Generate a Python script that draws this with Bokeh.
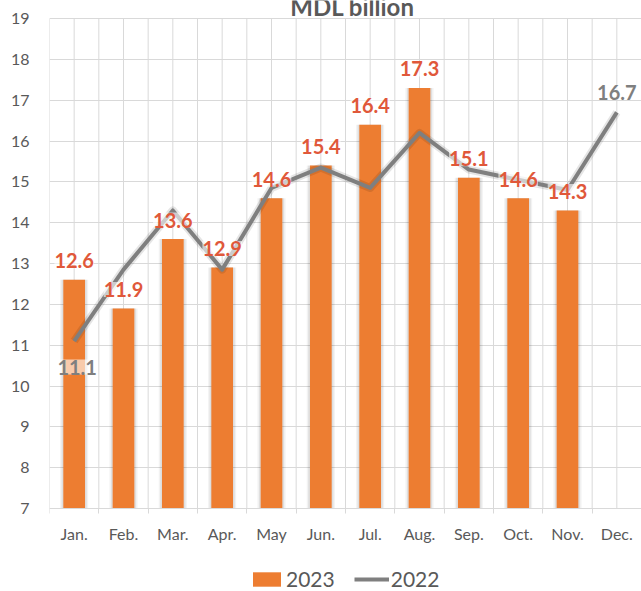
from bokeh.plotting import figure
from bokeh.models import (ColumnDataSource, FixedTicker, Label, LabelSet, Legend,
                          LegendItem, Range1d)
from bokeh.core.properties import value
from bokeh.embed import file_html
from bokeh.resources import INLINE

# ---- data ----
months = ["Jan.", "Feb.", "Mar.", "Apr.", "May", "Jun.", "Jul.", "Aug.",
          "Sep.", "Oct.", "Nov.", "Dec."]
values_2023 = [12.6, 11.9, 13.6, 12.9, 14.6, 15.4, 16.4, 17.3, 15.1, 14.6, 14.3, None]
values_2022 = [11.1, 12.85, 14.3, 12.85, 14.85, 15.35, 14.85, 16.2, 15.3, 15.05, 14.8, 16.7]
y_ticks = [7, 8, 9, 10, 11, 12, 13, 14, 15, 16, 17, 18, 19]
title_text = "MDL billion"
series_names = ["2023", "2022"]

# ---- styles ----
ORANGE = "#ed7d31"
LABEL_RED = "#e0583a"
GRAY_LINE = "#7f7f7f"
TEXT_GRAY = "#595959"
GRID = "#d9d9d9"
FONT = "Lato"

W, H = 641, 591
TOP, LEFT = 18, 49          # pixel row of the value-axis maximum, frame left
AXIS_Y = 508                # pixel row of the value axis minimum
px_per_unit = (AXIS_Y - TOP) / (y_ticks[-1] - y_ticks[0])
y_start = y_ticks[0] - (H - AXIS_Y) / px_per_unit
y_end = y_ticks[-1] + TOP / px_per_unit

xs = list(range(1, len(months) + 1))
bar_x = [x for x, v in zip(xs, values_2023) if v is not None]
bar_top = [v for v in values_2023 if v is not None]

bar_src = ColumnDataSource(dict(x=bar_x, top=bar_top,
                                text=[f"{v:.1f}" for v in bar_top]))
line_src = ColumnDataSource(dict(x=xs, y=values_2022))
first_src = ColumnDataSource(dict(x=[xs[0]], y=[values_2022[0]],
                                  text=[f"{values_2022[0]:.1f}"]))
last_src = ColumnDataSource(dict(x=[xs[-1]], y=[values_2022[-1]],
                                 text=[f"{values_2022[-1]:.1f}"]))

p = figure(width=W, height=H,
           x_range=Range1d(0.5, len(months) + 0.5),
           y_range=Range1d(y_start, y_end),
           output_backend="svg", toolbar_location=None,
           min_border_left=LEFT, min_border_right=0,
           min_border_top=0, min_border_bottom=0)
p.outline_line_color = None
p.background_fill_color = "white"
p.border_fill_color = "white"

# horizontal grid from the y ticks
p.ygrid.ticker = FixedTicker(ticks=y_ticks)
p.ygrid.grid_line_color = GRID
p.xgrid.visible = False
# vertical grid at category boundaries and centres (only inside the value span)
grid_x = [0.5 + 0.5 * i for i in range(2 * len(months) + 1)]
p.segment(x0=grid_x, y0=[y_ticks[0]] * len(grid_x), x1=grid_x,
          y1=[y_ticks[-1]] * len(grid_x), line_color=GRID, line_width=1)

# x axis fixed at the value-axis minimum
p.xaxis.fixed_location = y_ticks[0]
p.xaxis.ticker = FixedTicker(ticks=xs, minor_ticks=[x - 0.5 for x in xs] + [xs[-1] + 0.5])
p.xaxis.major_label_overrides = {x: m for x, m in zip(xs, months)}
p.xaxis.axis_line_color = GRID
p.xaxis.major_tick_line_color = None
p.xaxis.major_tick_out = 0
p.xaxis.major_tick_in = 0
p.xaxis.minor_tick_line_color = GRID
p.xaxis.minor_tick_out = 5
p.xaxis.minor_tick_in = 0
p.xaxis.major_label_standoff = 10
p.xaxis.major_label_text_font = FONT
p.xaxis.major_label_text_font_size = "16px"
p.xaxis.major_label_text_color = TEXT_GRAY

# y axis
p.yaxis.ticker = FixedTicker(ticks=y_ticks)
p.yaxis.axis_line_color = None
p.yaxis.major_tick_line_color = None
p.yaxis.minor_tick_line_color = None
p.yaxis.major_tick_out = 0
p.yaxis.major_tick_in = 0
p.yaxis.major_label_standoff = 20
p.yaxis.major_label_text_font = FONT
p.yaxis.major_label_text_font_size = "16px"
p.yaxis.major_label_text_color = TEXT_GRAY

# soft bar shadows
p.vbar(x="x", top="top", bottom=y_ticks[0], width=0.57, source=bar_src,
       fill_color="#000000", fill_alpha=0.05, line_color=None)
p.vbar(x="x", top="top", bottom=y_ticks[0], width=0.51, source=bar_src,
       fill_color="#000000", fill_alpha=0.08, line_color=None)
bars = p.vbar(x="x", top="top", bottom=y_ticks[0], width=0.44, source=bar_src,
              fill_color=ORANGE, line_color=None)

# line with faint shadow
p.line(x="x", y="y", source=line_src, line_color="#000000", line_alpha=0.10,
       line_width=8, line_join="round")
line = p.line(x="x", y="y", source=line_src, line_color=GRAY_LINE, line_width=4,
              line_join="round")

# data labels
common = dict(text_align="center", text_baseline="middle", text_font=value(FONT),
              text_font_style="bold", text_font_size="20px",
              background_fill_color="white", background_fill_alpha=0.6)
p.add_layout(LabelSet(x="x", y="top", text="text", source=bar_src, y_offset=19,
                      text_color=LABEL_RED, **common))
p.add_layout(LabelSet(x="x", y="y", text="text", source=first_src, y_offset=-26,
                      x_offset=3, text_color=GRAY_LINE, **common))
p.add_layout(LabelSet(x="x", y="y", text="text", source=last_src, y_offset=20,
                      text_color=GRAY_LINE, **common))

# title (at the top edge, above the plot area like the reference)
p.add_layout(Label(x=(len(months) + 1) / 2, y=y_ticks[-1], y_offset=12, x_offset=7,
                   text=title_text, text_align="center", text_baseline="alphabetic",
                   text_font=FONT, text_font_style="bold",
                   text_font_size="24px", text_color=TEXT_GRAY))

# legend at the bottom
legend = Legend(items=[LegendItem(label=series_names[0], renderers=[bars]),
                       LegendItem(label=series_names[1], renderers=[line])],
                location=(200, 0), orientation="horizontal",
                glyph_width=35, glyph_height=18, label_standoff=2, spacing=19,
                padding=0, margin=0, border_line_color=None,
                background_fill_alpha=0, label_text_font=FONT,
                label_text_font_size="21px", label_text_color=TEXT_GRAY)
p.add_layout(legend)

open("out.html", "w").write(file_html(p, INLINE))
